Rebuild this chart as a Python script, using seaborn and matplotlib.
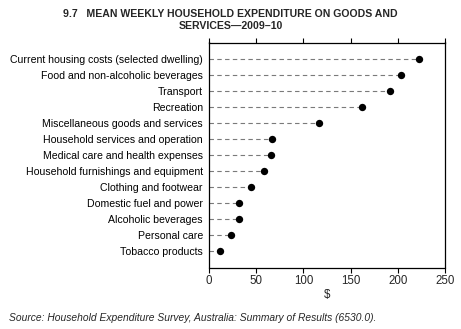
import matplotlib
matplotlib.use("Agg")
import matplotlib.pyplot as plt
import seaborn as sns
import pandas as pd

categories = [
    "Current housing costs (selected dwelling)",
    "Food and non-alcoholic beverages",
    "Transport",
    "Recreation",
    "Miscellaneous goods and services",
    "Household services and operation",
    "Medical care and health expenses",
    "Household furnishings and equipment",
    "Clothing and footwear",
    "Domestic fuel and power",
    "Alcoholic beverages",
    "Personal care",
    "Tobacco products",
]
values = [222.8, 203.9, 192.2, 161.6, 116.1, 67.0, 65.7, 57.8, 44.2, 32.3, 31.4, 23.4, 11.8]
xticks = [0, 50, 100, 150, 200, 250]

title = "9.7   MEAN WEEKLY HOUSEHOLD EXPENDITURE ON GOODS AND\nSERVICES\u20142009\u201310"
xlabel = "$"
source = "Source: Household Expenditure Survey, Australia: Summary of Results (6530.0)."

sns.set_style("white")
plt.rcParams["font.family"] = ["Liberation Sans", "DejaVu Sans"]

df = pd.DataFrame({"category": categories, "value": values})

fig = plt.figure(figsize=(4.61, 3.29), dpi=100)
ax = fig.add_axes([209 / 461, 1 - 267.5 / 329, 236 / 461, (267.5 - 42.5) / 329])

ax.hlines(y=df["category"], xmin=0, xmax=df["value"], color="#7a7a7a",
          linestyle=(0, (4, 3)), linewidth=0.8, zorder=1)
sns.scatterplot(data=df, x="value", y="category", ax=ax, color="black",
                s=28, edgecolor="black", linewidth=0, zorder=3, legend=False)

ax.set_xlim(0, 250)
ax.set_ylim(len(categories), -1)
ax.set_xticks(xticks)
ax.set_xticklabels([str(t) for t in xticks], fontsize=8.3)
ax.tick_params(axis="x", which="both", direction="out", length=3.5, width=0.8,
               top=True, bottom=True, labeltop=False, labelbottom=True, pad=2, color="black")
ax.tick_params(axis="y", length=0, pad=4.5, labelsize=7.6)
for lab in ax.get_yticklabels():
    lab.set_color("black")
for sp in ax.spines.values():
    sp.set_visible(True)
    sp.set_color("black")
    sp.set_linewidth(0.9)
ax.set_xlabel(xlabel, fontsize=8.3, labelpad=1)
ax.set_ylabel("")

fig.text(0.5, 1 - 9 / 329, title, ha="center", va="top", fontsize=7.6,
         fontweight="bold", linespacing=1.25)
fig.text(9 / 461, 1 - 318 / 329, source, ha="left", va="center", fontsize=7.4,
         style="italic")

fig.savefig("out.png", dpi=100)
